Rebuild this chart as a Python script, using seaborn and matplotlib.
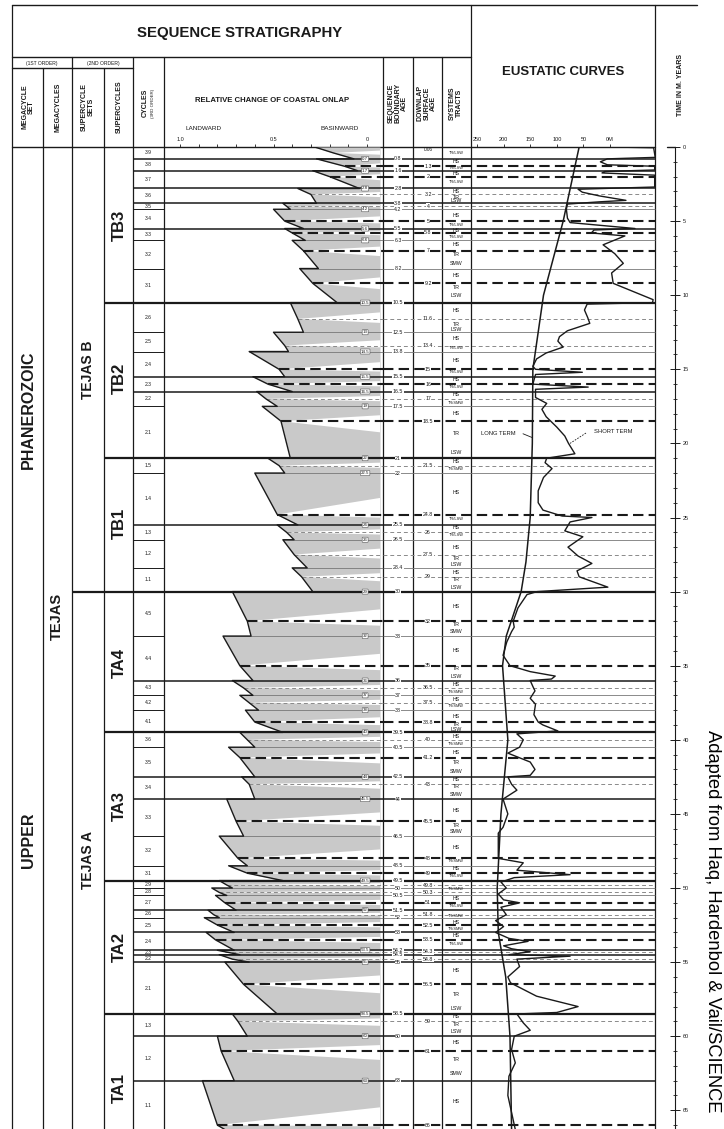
import matplotlib
matplotlib.use("Agg")
import matplotlib.pyplot as plt
import seaborn as sns

# ---------------- data ----------------
# sequence boundaries (Ma) and rank: 0 minor, 1 major, 2 supercycle, 3 supercycle set
sb_age = [0.8, 1.6, 2.8, 3.8, 4.2, 5.5, 6.3, 8.2, 10.5, 12.5, 13.8, 15.5, 16.5, 17.5,
          21, 22, 25.5, 26.5, 28.4, 30, 33, 36, 37, 38, 39.5, 40.5, 42.5, 44, 46.5,
          48.5, 49.5, 50, 50.5, 51.5, 52, 53, 54.2, 54.5, 55, 58.5, 60, 63]
sb_rank = [1, 1, 1, 1, 0, 1, 0, 0, 2, 0, 0, 1, 1, 0,
           2, 0, 1, 0, 0, 3, 0, 1, 0, 0, 2, 0, 1, 1, 0,
           0, 2, 0, 0, 1, 0, 1, 1, 1, 1, 2, 1, 1]

# downlap surfaces (Ma), 1 = heavy dash
ds_age = [1.3, 2, 3.2, 4, 5, 5.8, 7, 9.2, 11.6, 13.4, 15, 16, 17, 18.5, 21.5, 24.8, 26,
          27.5, 29, 32, 35, 36.5, 37.5, 38.8, 40, 41.2, 43, 45.5, 48, 49, 49.8, 50.3, 51,
          51.8, 52.5, 53.5, 54.3, 54.8, 56.5, 59, 61, 66]
ds_major = [1, 1, 0, 0, 1, 1, 1, 1, 0, 0, 1, 1, 0, 1, 0, 1, 0, 0, 0, 1, 1, 0, 0, 1, 0, 1, 0,
            1, 1, 1, 0, 0, 1, 0, 1, 1, 0, 0, 1, 0, 1, 1]

# 3rd order cycles, young to old
cyc_name = ["3.9", "3.8", "3.7", "3.6", "3.5", "3.4", "3.3", "3.2", "3.1",
            "2.6", "2.5", "2.4", "2.3", "2.2", "2.1",
            "1.5", "1.4", "1.3", "1.2", "1.1",
            "4.5", "4.4", "4.3", "4.2", "4.1",
            "3.6", "3.5", "3.4", "3.3", "3.2", "3.1",
            "2.9", "2.8", "2.7", "2.6", "2.5", "2.4", "2.3", "2.2", "2.1",
            "1.3", "1.2", "1.1"]
# coastal onlap (1 = landward, 0 = basinward) at top, downlap and base of each cycle
cyc_top_v = [0.28, 0.27, 0.29, 0.37, 0.45, 0.50, 0.44, 0.40, 0.36,
             0.41, 0.50, 0.63, 0.61, 0.59, 0.56,
             0.53, 0.60, 0.48, 0.45, 0.40,
             0.72, 0.77, 0.72, 0.68, 0.65,
             0.68, 0.74, 0.67, 0.75, 0.79, 0.74,
             0.79, 0.83, 0.81, 0.85, 0.87, 0.86, 0.80, 0.79, 0.76,
             0.72, 0.80, 0.88]
cyc_mid_v = [0.18, 0.12, 0.20, 0.30, 0.43, 0.44, 0.40, 0.34, 0.29,
             0.37, 0.44, 0.47, 0.53, 0.54, 0.46,
             0.47, 0.48, 0.43, 0.39, 0.35,
             0.64, 0.68, 0.66, 0.63, 0.60,
             0.64, 0.68, 0.63, 0.70, 0.69, 0.64,
             0.75, 0.79, 0.76, 0.82, 0.80, 0.81, 0.76, 0.72, 0.66,
             0.69, 0.78, 0.80]
cyc_bot_v = [0.07, 0.05, 0.04, 0.27, 0.41, 0.34, 0.33, 0.26, 0.16,
             0.34, 0.42, 0.44, 0.40, 0.48, 0.41,
             0.44, 0.37, 0.39, 0.32, 0.29,
             0.62, 0.61, 0.61, 0.58, 0.45,
             0.60, 0.60, 0.60, 0.66, 0.64, 0.45,
             0.72, 0.75, 0.70, 0.79, 0.71, 0.71, 0.68, 0.63, 0.48,
             0.64, 0.71, 0.76]

# older onlap ages written at the basinward end of boundaries
old_at = [0.8, 1.6, 2.8, 4.2, 5.5, 6.3, 10.5, 12.5, 13.8, 15.5, 16.5, 17.5, 21, 22, 25.5,
          26.5, 30, 33, 36, 37, 38, 39.5, 42.5, 44, 49.5, 51.5, 54.2, 55, 58.5, 60, 63]
old_txt = ["0.7", "1.7", "2.8", "4.2", "5.6", "6.6", "10.5", "13", "14.5", "15.5", "16.5",
           "19", "22", "22.5", "24", "26", "29", "32", "36", "37", "38", "40", "44", "45.5",
           "49.5", "52", "53.5", "55", "58.5", "60", "63"]

sc_name = ["TB3", "TB2", "TB1", "TA4", "TA3", "TA2", "TA1"]
sc_age = [5.3, 15.6, 25.4, 34.8, 44.5, 54.0, 63.5]
set_name = ["TEJAS B", "TEJAS A"]
set_age = [15.0, 48.1]

st_age = [0.4, 1.0, 1.45, 1.8, 2.35, 3.0, 3.4, 3.62, 4.6, 5.25, 5.65, 6.05, 6.6, 7.25, 7.85,
          8.7, 9.5, 10.05, 11.0, 11.95, 12.3, 12.9, 13.55, 14.4, 15.2, 15.7, 16.2, 16.7,
          17.25, 17.95, 19.35, 20.6, 21.2, 21.75, 23.3, 25.1, 25.7, 26.2, 27.0, 27.75,
          28.2, 28.7, 29.2, 29.7, 31.0, 32.2, 32.7, 34.0, 35.2, 35.7, 36.25, 36.75, 37.25,
          37.75, 38.4, 39.0, 39.3, 39.75, 40.25, 40.85, 41.55, 42.15, 42.7, 43.15, 43.7,
          44.75, 45.8, 46.2, 47.25, 48.2, 48.7, 49.2, 50.05, 50.7, 51.2, 51.9, 52.3, 52.75,
          53.2, 53.75, 55.6, 57.2, 58.15, 58.7, 59.2, 59.7, 60.45, 61.55, 62.5, 64.4]
st_txt = ["TR/LSW", "HS", "TR/LSW", "HS", "TR/LSW", "HS", "TR", "LSW", "HS", "TR/LSW", "HS",
          "TR/LSW", "HS", "TR", "SMW", "HS", "TR", "LSW", "HS", "TR", "LSW", "HS", "TR/LSW",
          "HS", "TR/LSW", "HS", "TR/LSW", "HS", "TR/SMW", "HS", "TR", "LSW", "HS", "TR/SMW",
          "HS", "TR/LSW", "HS", "TR/LSW", "HS", "TR", "LSW", "HS", "TR", "LSW", "HS", "TR",
          "SMW", "HS", "TR", "LSW", "HS", "TR/SMW", "HS", "TR/SMW", "HS", "TR", "LSW", "HS",
          "TR/SMW", "HS", "TR", "SMW", "HS", "TR", "SMW", "HS", "TR", "SMW", "HS", "TR/SMW",
          "HS", "TR/LSW", "TR/SMW", "HS", "TR/LSW", "TR/SMW", "HS", "TR/SMW", "HS",
          "TR/LSW", "HS", "TR", "LSW", "HS", "TR", "LSW", "HS", "TR", "SMW", "HS"]

# eustatic curves, metres above present (x) against age (y)
long_age = [0, 2, 5, 10, 15, 20, 25, 28, 30, 33, 35, 38, 40, 45, 50, 53, 56, 60, 66.3]
long_m = [58, 70, 88, 125, 145, 146, 150, 158, 167, 195, 202, 196, 192, 205, 212, 210,
          196, 188, 185]
short_age = [0.0, 0.05, 0.7, 0.8, 1.0, 1.2, 1.3, 1.55, 1.65, 1.75, 1.9, 2.7, 2.85, 3.05,
             3.3, 3.6, 3.7, 3.85, 4.2, 4.8, 5.1, 5.5, 5.6, 5.8, 6.0, 6.6, 7.2, 7.85, 8.5,
             9.2, 10.3, 10.5, 10.6, 11.0, 11.5, 11.9, 12.4, 12.8, 13.1, 13.5, 13.9, 14.3,
             14.8, 15.0, 15.2, 15.35, 16.0, 16.2, 16.35, 16.9, 17.3, 17.7, 18.2, 18.9, 19.5,
             20.0, 20.7, 21.0, 21.3, 21.7, 22.3, 23.2, 24.0, 24.5, 24.9, 25.0, 25.3, 25.9,
             26.3, 27.0, 27.6, 28.1, 28.6, 29.0, 29.7, 30.0, 30.2, 31.1, 32.0, 32.4, 32.7,
             33.4, 34.3, 35.0, 35.4, 35.7, 35.9, 36.0, 36.4, 36.7, 37.2, 37.6, 38.3, 38.8,
             39.0, 39.4, 39.6, 40.0, 40.5, 40.9, 41.5, 42.0, 42.4, 42.5, 43.0, 43.4, 44.0,
             45.0, 45.9, 46.3, 47.2, 48.0, 48.3, 48.8, 49.1, 49.3, 49.6, 50.0, 50.4, 50.8,
             51.0, 51.3, 51.8, 52.2, 52.6, 53.0, 53.4, 53.6, 53.9, 54.1, 54.3, 54.5, 54.6,
             54.8, 55.3, 56.0, 56.4, 57.3, 58.0, 58.4, 58.5, 59.1, 59.6, 60.0, 60.9, 61.8,
             62.7, 64.0, 66.3]
short_m = [0, -82, -85, 5, 18, 5, -84, -84, 10, 15, -84, -84, 60, 52, 20, -30, 20, 80, 82,
           80, 75, -47, 30, 35, -28, 13, -9, -25, -3, -6, -81, -80, 43, 48, 42, 38, 80, 95,
           98, 88, 120, 138, 145, 140, 52, 140, 145, 41, 140, 140, 119, 128, 120, 100, 85,
           78, 66, 119, 122, 109, 125, 135, 135, 126, 90, 34, 75, 85, 51, 79, 60, 34, 62,
           58, 4, 137, 156, 173, 182, 180, 185, 194, 201, 188, 150, 103, 110, 150, 145, 141,
           150, 140, 143, 135, 126, 98, 175, 163, 170, 192, 150, 141, 150, 192, 185, 175,
           201, 192, 201, 210, 210, 210, 163, 175, 75, 180, 205, 195, 210, 200, 170, 205,
           195, 215, 200, 215, 190, 154, 200, 185, 150, 190, 75, 175, 170, 192, 187, 138,
           60, 100, 175, 163, 150, 180, 185, 178, 190, 192, 178]

eu_ticks = [250, 200, 150, 100, 50, 0]
eu_labels = ["250", "200", "150", "100", "50", "0M"]
time_major = [0, 5, 10, 15, 20, 25, 30, 35, 40, 45, 50, 55, 60, 65]
time_minor = list(range(0, 67))
onlap_ticks = [1.0, 0.5, 0.0]
onlap_minor = [0.9, 0.8, 0.7, 0.6, 0.4, 0.3, 0.2, 0.1]

# ---------------- layout ----------------
W, H = 724, 1129
Y0 = 147
PX_MA = 14.82
AGE_MAX = (H - Y0) / PX_MA
V0_X, V_PX = 367, 187          # onlap 0 at x=367, 187 px per unit
M0_X, M_PX = 610, 0.532        # 0 m at x=610


def rect(x0, x1, y0=Y0, y1=H):
    return [x0 / W, 1 - y1 / H, (x1 - x0) / W, (y1 - y0) / H]


def vx(x):
    return (V0_X - x) / V_PX


def mx(x):
    return (M0_X - x) / M_PX


sns.set_theme(style="white")
plt.rcParams['font.family'] = ['Liberation Sans', 'DejaVu Sans']

fig = plt.figure(figsize=(W / 100, H / 100), dpi=100)
fig.patch.set_facecolor("white")

ax_bg = fig.add_axes([0, 0, 1, 1])
ax_bg.set_xlim(0, W)
ax_bg.set_ylim(H, 0)
ax_bg.axis("off")

ax_t = fig.add_axes(rect(0, W))
ax_t.set_xlim(0, W)
ax_t.set_ylim(AGE_MAX, 0)
ax_t.axis("off")

ax_on = fig.add_axes(rect(164, 383))
ax_on.set_xlim(vx(164), vx(383))
ax_on.set_ylim(AGE_MAX, 0)

ax_eu = fig.add_axes(rect(471, 655))
ax_eu.set_xlim(mx(471), mx(655))
ax_eu.set_ylim(AGE_MAX, 0)

ax_time = fig.add_axes(rect(660, 675))
ax_time.set_ylim(AGE_MAX, 0)

for a in (ax_t, ax_on, ax_eu, ax_time):
    a.patch.set_visible(False)
for a in (ax_on, ax_eu, ax_time):
    for s in a.spines.values():
        s.set_visible(False)

# ---------------- frame ----------------
K = "#1a1a1a"
for y, xa, xb in [(5, 12, 697), (57, 12, 471), (68, 12, 133), (Y0, 12, 655), (Y0, 667, 675)]:
    ax_bg.plot([xa, xb], [y, y], color=K, lw=1.0)
for x, ya in [(12, 5), (43, 68), (72, 57), (104, 68), (133, 57), (164, 57), (383, 57),
              (413, 57), (442, 57), (471, 5), (655, 5)]:
    ax_bg.plot([x, x], [ya, H], color=K, lw=0.9)

ax_bg.text(240, 33, "SEQUENCE STRATIGRAPHY", fontsize=10.8, fontweight="bold", ha="center", va="center", color=K)
ax_bg.text(563, 72, "EUSTATIC CURVES", fontsize=9.5, fontweight="bold", ha="center", va="center", color=K)
ax_bg.text(42, 63, "(1ST ORDER)", fontsize=3.6, ha="center", va="center", color=K)
ax_bg.text(103, 63, "(2ND ORDER)", fontsize=3.6, ha="center", va="center", color=K)
for x, y, s in [(28, 107, "MEGACYCLE\nSET"), (58, 107, "MEGACYCLES"), (88, 107, "SUPERCYCLE\nSETS"),
                (119, 107, "SUPERCYCLES"), (145, 103, "CYCLES"), (398, 103, "SEQUENCE\nBOUNDARY\nAGE"),
                (427, 103, "DOWNLAP\nSURFACE\nAGE"), (456, 103, "SYSTEMS\nTRACTS"),
                (680, 85, "TIME IN M. YEARS")]:
    ax_bg.text(x, y, s, fontsize=5, fontweight="bold", rotation=90, ha="center", va="center",
               linespacing=0.95, color=K)
ax_bg.text(153, 103, "(3RD ORDER)", fontsize=3.2, rotation=90, ha="center", va="center", color=K)
ax_bg.text(272, 100, "RELATIVE CHANGE OF COASTAL ONLAP", fontsize=5.6, fontweight="bold",
           ha="center", va="center", color=K)
ax_bg.text(204, 128, "LANDWARD", fontsize=4.6, ha="center", va="center", color=K)
ax_bg.text(340, 128, "BASINWARD", fontsize=4.6, ha="center", va="center", color=K)
ax_bg.text(712, 730, "Adapted from Haq, Hardenbol & Vail/SCIENCE", fontsize=13.2, rotation=-90,
           rotation_mode="anchor", ha="left", va="center", color="black")

# ---------------- onlap curve ----------------
cyc_top_age = [0] + sb_age
cyc_bot_age = sb_age + [66.3]
cyc_mid_age = [0.4] + ds_age
V_FILL = vx(380)
V_EDGE = vx(383)

cv_age, cv_v = [], []
for t, d, b, vt, vd, vb in zip(cyc_top_age, cyc_mid_age, cyc_bot_age, cyc_top_v, cyc_mid_v, cyc_bot_v):
    cv_age += [t, d, b]
    cv_v += [vt, vd, vb]

ax_on.fill_betweenx(cv_age, cv_v, V_FILL, color="#c9c9c9", lw=0, zorder=1)
for t, d, b, vd in zip(cyc_top_age, cyc_mid_age, cyc_bot_age, cyc_mid_v):
    ax_on.fill([vd, V_FILL, V_FILL], [d, d - 0.4 * (d - t), d + 0.3 * (b - d)],
               color="white", lw=0, zorder=2)

sns.lineplot(x=cv_v, y=cv_age, sort=False, estimator=None, color=K, lw=1.0, ax=ax_on,
             legend=False, zorder=5)

for i, (a, r) in enumerate(zip(sb_age, sb_rank)):
    left = ax_on.get_xlim()[0] if r > 0 else cyc_top_v[i + 1]
    ax_on.hlines(a, left, V_EDGE, color=K if r > 0 else "#777777",
                 lw=[0.6, 1.1, 1.6, 1.6][r], zorder=4)
for j, (d, mj) in enumerate(zip(ds_age, ds_major)):
    ax_on.hlines(d, cyc_mid_v[j + 1], V_EDGE, color=K if mj else "#8a8a8a",
                 lw=1.5 if mj else 0.7, linestyles=(0, (5, 2.5)) if mj else (0, (4, 3)), zorder=4)
for a, s in zip(old_at, old_txt):
    ax_on.text(0.01, a, s, fontsize=3.2, ha="center", va="center", color=K, zorder=6,
               bbox=dict(boxstyle="round,pad=0.12", fc="white", ec="#555555", lw=0.4))

ax_on.xaxis.tick_top()
ax_on.set_xticks(onlap_ticks)
ax_on.set_xticklabels(["1.0", "0.5", "0"])
ax_on.set_xticks(onlap_minor, minor=True)
ax_on.tick_params(axis="x", which="both", direction="out", length=2.5, width=0.6, labelsize=4,
                  pad=1, colors=K)
ax_on.set_yticks([])
ax_on.set_xlabel("")
ax_on.set_ylabel("")

# ---------------- horizontal boundaries through the other columns ----------------
for a, r in zip(sb_age, sb_rank):
    col = K if r > 0 else "#777777"
    lw = [0.6, 1.1, 1.6, 1.6][r]
    x_start = [133, 133, 104, 72][r]
    ax_t.hlines(a, x_start, 164, color=K, lw=max(lw, 0.7))
    ax_t.hlines(a, 383, 655, color=col, lw=lw)
    ax_t.text(398, a, f"{a:g}", fontsize=3.8, ha="center", va="center", color=K,
              bbox=dict(fc="white", ec="none", pad=0.3))
for d, mj in zip(ds_age, ds_major):
    ax_t.hlines(d, 383, 655, color=K if mj else "#8a8a8a", lw=1.5 if mj else 0.7,
                linestyles=(0, (5, 2.5)) if mj else (0, (4, 3)))
    ax_t.text(428, d, f"{d:g}", fontsize=3.8, ha="center", va="center", color=K,
              bbox=dict(fc="white", ec="none", pad=0.3))
ax_t.text(428, 0.15, ".006", fontsize=3.4, ha="center", va="center", color=K)

for name, t, b in zip(cyc_name, cyc_top_age, cyc_bot_age):
    ax_t.text(148, (t + b) / 2, name, fontsize=3.6, ha="center", va="center", color=K)
for a, s in zip(st_age, st_txt):
    ax_t.text(456, a, s, fontsize=2.8 if "/" in s else 3.8, ha="center", va="center", color=K)

for name, a in zip(sc_name, sc_age):
    ax_t.text(119, a, name, fontsize=12, fontweight="bold", rotation=90, ha="center", va="center", color=K)
for name, a in zip(set_name, set_age):
    ax_t.text(88, a, name, fontsize=10, fontweight="bold", rotation=90, ha="center", va="center", color=K)
ax_t.text(57, 31.7, "TEJAS", fontsize=10.5, fontweight="bold", rotation=90, ha="center", va="center", color=K)
ax_t.text(28, 17.7, "PHANEROZOIC", fontsize=11.5, fontweight="bold", rotation=90, ha="center", va="center", color=K)
ax_t.text(28, 46.8, "UPPER", fontsize=11.5, fontweight="bold", rotation=90, ha="center", va="center", color=K)

# ---------------- eustatic curves ----------------
sns.lineplot(x=long_m, y=long_age, sort=False, estimator=None, color=K, lw=1.1, ax=ax_eu, legend=False)
sns.lineplot(x=short_m, y=short_age, sort=False, estimator=None, color=K, lw=1.0, ax=ax_eu, legend=False)
ax_eu.text(mx(498), 19.3, "LONG TERM", fontsize=4.2, ha="center", va="center", color=K)
ax_eu.plot([mx(523), mx(532)], [19.35, 19.6], color=K, lw=0.6)
ax_eu.text(mx(613), 19.2, "SHORT TERM", fontsize=4.2, ha="center", va="center", color=K)
ax_eu.plot([mx(586), mx(570)], [19.3, 20.0], color=K, lw=0.6, ls=(0, (2, 1.5)))
ax_eu.xaxis.tick_top()
ax_eu.set_xticks(eu_ticks)
ax_eu.set_xticklabels(eu_labels)
ax_eu.tick_params(axis="x", direction="out", length=2.5, width=0.6, labelsize=4, pad=1, colors=K)
ax_eu.set_yticks([])
ax_eu.set_xlabel("")
ax_eu.set_ylabel("")

# ---------------- time axis ----------------
ax_time.spines["right"].set_visible(True)
ax_time.spines["right"].set_color(K)
ax_time.spines["right"].set_linewidth(0.8)
ax_time.set_xticks([])
ax_time.yaxis.tick_right()
ax_time.set_yticks(time_major)
ax_time.set_yticks(time_minor, minor=True)
ax_time.tick_params(axis="y", which="major", direction="inout", length=7, width=0.7, labelsize=4,
                    pad=2, colors=K)
ax_time.tick_params(axis="y", which="minor", direction="inout", length=3.5, width=0.6, colors=K)

fig.savefig("out.png", dpi=100)
